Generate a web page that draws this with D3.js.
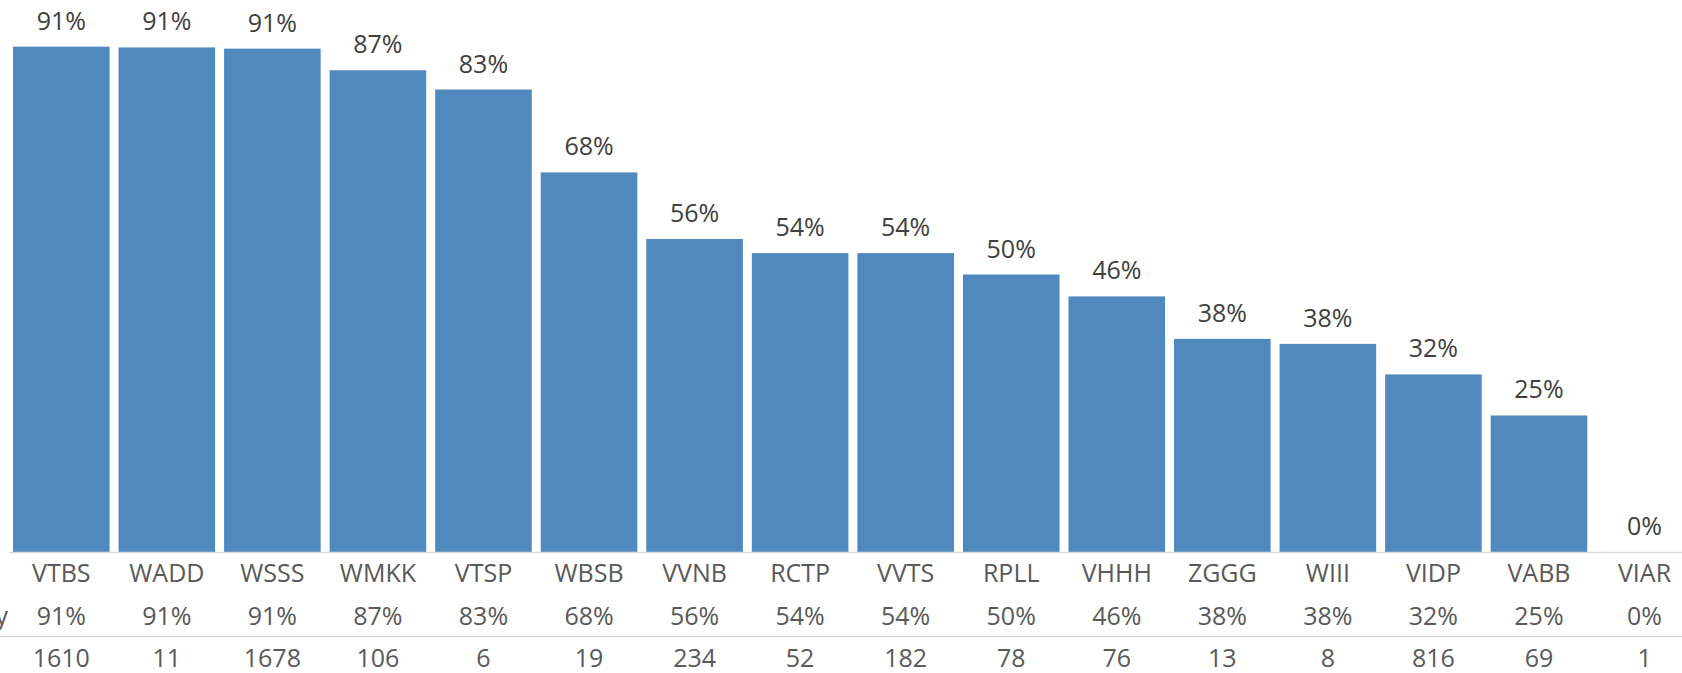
<!DOCTYPE html>
<html><head><meta charset="utf-8">
<script src="https://cdn.jsdelivr.net/npm/d3@7"></script>
<style>html,body{margin:0;padding:0;background:#fff;overflow:hidden}</style>
</head><body>
<svg id="c" width="1682" height="673"></svg>
<script>
const categories = ["VTBS","WADD","WSSS","WMKK","VTSP","WBSB","VVNB","RCTP","VVTS","RPLL","VHHH","ZGGG","WIII","VIDP","VABB","VIAR"];
const accuracy = [0.9105,0.9091,0.9069,0.868,0.8333,0.684,0.564,0.5385,0.5385,0.5,0.4605,0.384,0.375,0.32,0.246,0];
const counts = [1610,11,1678,106,6,19,234,52,182,78,76,13,8,816,69,1];
const rowLabel = "Accuracy";

const svg = d3.select("#c");
const font = "'Open Sans', sans-serif";
const fs = 25;
const x = d3.scaleBand().domain(categories).range([8.5, 8.5 + 16*105.55]).paddingInner(0.085).paddingOuter(0.0425);
const y = d3.scaleLinear().domain([0,1]).range([552,-3]);
const fmt = d => Math.round(d*100) + "%";

svg.selectAll("rect.bar").data(categories).join("rect")
  .attr("x", d => x(d)).attr("width", x.bandwidth())
  .attr("y", (d,i) => y(accuracy[i])).attr("height", (d,i) => y(0) - y(accuracy[i]))
  .attr("fill", "#4f89bd");

svg.selectAll("text.lbl").data(categories).join("text")
  .attr("x", d => x(d) + x.bandwidth()/2).attr("y", (d,i) => y(accuracy[i]) - 17)
  .attr("text-anchor","middle").attr("font-family",font).attr("font-size",fs).attr("fill","#404040")
  .text((d,i) => fmt(accuracy[i]));

// table lines
svg.append("line").attr("x1",9).attr("x2",1682).attr("y1",552.5).attr("y2",552.5).attr("stroke","#d9d9d9").attr("stroke-width",1.3);
svg.append("line").attr("x1",0).attr("x2",1682).attr("y1",636.5).attr("y2",636.5).attr("stroke","#d9d9d9").attr("stroke-width",1.3);

const rows = [
  {vals: categories, yb: 582},
  {vals: accuracy.map(fmt), yb: 625},
  {vals: counts.map(String), yb: 667}
];
rows.forEach(r => {
  svg.append("g").selectAll("text").data(r.vals).join("text")
    .attr("x", (d,i) => x(categories[i]) + x.bandwidth()/2).attr("y", r.yb)
    .attr("text-anchor","middle").attr("font-family",font).attr("font-size",fs).attr("fill","#595959")
    .text(d => d);
});
svg.append("text").attr("x",8).attr("y",625).attr("text-anchor","end")
  .attr("font-family",font).attr("font-size",fs).attr("fill","#595959").text(rowLabel);
</script>
</body></html>
